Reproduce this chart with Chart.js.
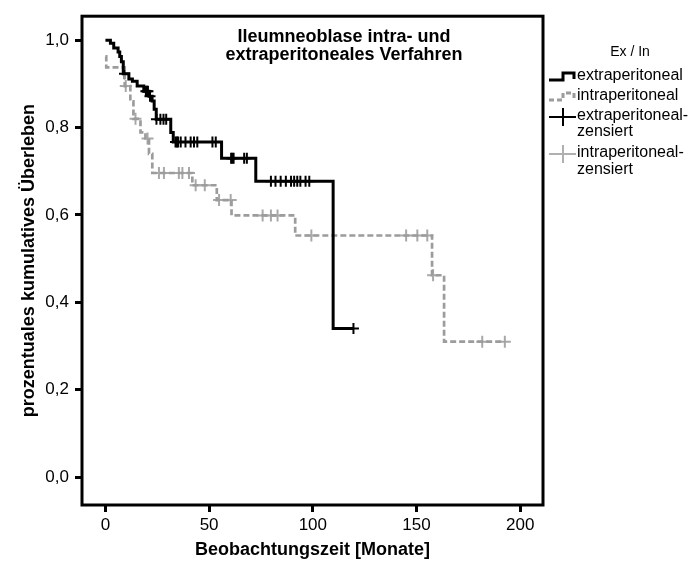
<!DOCTYPE html>
<html>
<head>
<meta charset="utf-8">
<script src="https://cdn.jsdelivr.net/npm/chart.js@4/dist/chart.umd.min.js"></script>
<style>
  body { margin: 0; background: #fff; }
  #wrap { width: 697px; height: 564px; }
</style>
</head>
<body>
<div id="wrap"><canvas id="km" width="697" height="564"></canvas></div>
<script>
// Kaplan-Meier steps (time in months, survival after the step)
const extraTimes = [0, 2.4, 4, 6.1, 6.9, 7.7, 8.6, 11.3, 13, 15.3, 18.5, 21, 22.5, 23.5, 24.5, 31.5, 32.7, 56, 72.5, 109.8, 119.6];
const extraSurv  = [1.0, 0.993, 0.982, 0.973, 0.963, 0.951, 0.923, 0.911, 0.906, 0.895, 0.883, 0.872, 0.861, 0.842, 0.819, 0.789, 0.767, 0.730, 0.677, 0.340, 0.340];

const intraTimes = [0, 0.4, 9.3, 12, 13.5, 16.9, 19.3, 21, 22.6, 41.9, 53.7, 60.8, 91.5, 157.5, 163.3, 192.6];
const intraSurv  = [0.963, 0.938, 0.895, 0.86, 0.82, 0.789, 0.775, 0.74, 0.696, 0.668, 0.634, 0.599, 0.553, 0.462, 0.310, 0.310];

// censored cases (months)
const extraCensored = [9.2, 19.5, 20, 20.5, 21.5, 24.6, 26.5, 28, 29.3, 33.8, 34.4, 35, 36.3, 38.6, 41.1, 42.7, 44.3, 51.6, 53.2,
                       60.6, 61.2, 61.8, 66.9, 68.2, 79.8, 82, 84.5, 87, 89.5, 91, 92.5, 94, 96.5, 98.3, 119.6];
const intraCensored = [9.8, 14.5, 20.3, 25.8, 28.2, 35.4, 37.1, 40.3, 43.5, 47.9, 54.8, 60.4, 75.8, 79.8, 83, 99.3,
                       145, 150.4, 155.2, 158, 181.7, 192.6];

const xTicks = [0, 50, 100, 150, 200];
const yTicks = [0, 0.2, 0.4, 0.6, 0.8, 1.0];

const legendTitle = 'Ex / In';
const legendLabels = [['extraperitoneal'], ['intraperitoneal'], ['extraperitoneal-', 'zensiert'], ['intraperitoneal-', 'zensiert']];
const plotTitle = ['Ileumneoblase intra- und', 'extraperitoneales Verfahren'];

const black = '#000000';
const grey = '#9c9c9c';
const fontFamily = 'Arial, "Liberation Sans", sans-serif';

function survAt(times, surv, t) {
    let s = surv[0];
    for (let i = 0; i < times.length; i++) {
        if (times[i] <= t) s = surv[i];
    }
    return s;
}

const toPoints = (times, surv) => times.map((t, i) => ({ x: t, y: surv[i] }));
const censorPoints = (cens, times, surv) => cens.map(t => ({ x: t, y: survAt(times, surv, t) }));

// box, title inside the plot and the legend on the right
const decor = {
    id: 'decor',
    afterDraw(chart) {
        const { ctx, chartArea: a } = chart;
        ctx.save();
        ctx.strokeStyle = black;
        ctx.lineWidth = 3;
        ctx.strokeRect(a.left, a.top, a.right - a.left, a.bottom - a.top);

        ctx.fillStyle = black;
        ctx.textAlign = 'center';
        ctx.textBaseline = 'middle';
        ctx.font = 'bold 18px ' + fontFamily;
        ctx.fillText(plotTitle[0], 344, 37);
        ctx.fillText(plotTitle[1], 344, 55);

        ctx.font = '14px ' + fontFamily;
        ctx.fillText(legendTitle, 630, 52);

        ctx.textAlign = 'left';
        ctx.font = '16px ' + fontFamily;
        const rows = [[76], [96], [116, 132], [153, 170]];
        legendLabels.forEach((lines, i) => {
            lines.forEach((txt, j) => ctx.fillText(txt, 577, rows[i][j]));
        });

        // step symbols
        ctx.lineWidth = 3;
        ctx.strokeStyle = black;
        ctx.beginPath();
        ctx.moveTo(549, 80); ctx.lineTo(563, 80); ctx.lineTo(563, 73); ctx.lineTo(574, 73); ctx.lineTo(574, 79);
        ctx.stroke();
        ctx.strokeStyle = grey;
        ctx.setLineDash([5, 3]);
        ctx.beginPath();
        ctx.moveTo(549, 100); ctx.lineTo(563, 100); ctx.lineTo(563, 93); ctx.lineTo(574, 93); ctx.lineTo(574, 99);
        ctx.stroke();
        ctx.setLineDash([]);

        // censor symbols
        ctx.lineWidth = 2;
        ctx.strokeStyle = black;
        ctx.beginPath();
        ctx.moveTo(549, 117); ctx.lineTo(576, 117);
        ctx.moveTo(563, 108); ctx.lineTo(563, 126);
        ctx.stroke();
        ctx.strokeStyle = '#b0b0b0';
        ctx.beginPath();
        ctx.moveTo(549, 154); ctx.lineTo(576, 154);
        ctx.moveTo(563, 145); ctx.lineTo(563, 163);
        ctx.stroke();
        ctx.restore();
    },
};

Chart.defaults.font.family = fontFamily;
Chart.defaults.color = black;

new Chart(document.getElementById('km'), {
    type: 'line',
    data: {
        datasets: [
            {
                label: 'extraperitoneal',
                data: toPoints(extraTimes, extraSurv),
                borderColor: black,
                borderWidth: 3,
                stepped: 'before',
                pointRadius: 0,
                fill: false,
            },
            {
                label: 'intraperitoneal',
                data: toPoints(intraTimes, intraSurv),
                borderColor: grey,
                borderWidth: 2.7,
                borderDash: [6, 3],
                stepped: 'before',
                pointRadius: 0,
                fill: false,
            },
            {
                label: 'extraperitoneal-zensiert',
                data: censorPoints(extraCensored, extraTimes, extraSurv),
                showLine: false,
                pointStyle: 'cross',
                pointRadius: 5.5,
                pointBorderWidth: 2,
                pointBorderColor: black,
            },
            {
                label: 'intraperitoneal-zensiert',
                data: censorPoints(intraCensored, intraTimes, intraSurv),
                showLine: false,
                pointStyle: 'cross',
                pointRadius: 6,
                pointBorderWidth: 2,
                pointBorderColor: '#a8a8a8',
            },
        ],
    },
    options: {
        responsive: false,
        animation: false,
        devicePixelRatio: 1,
        layout: { padding: { top: 11.5, right: 154, left: 0, bottom: 0 } },
        plugins: {
            legend: { display: false },
            tooltip: { enabled: false },
        },
        scales: {
            x: {
                type: 'linear',
                min: -11.3,
                max: 211,
                afterBuildTicks: (scale) => { scale.ticks = xTicks.map(v => ({ value: v })); },
                afterFit: (scale) => { scale.height = 59; },
                ticks: { font: { size: 17 }, padding: 3, maxRotation: 0, callback: (v) => String(v) },
                grid: { drawOnChartArea: false, drawTicks: true, tickLength: 7, lineWidth: 3, color: black },
                border: { display: false },
                title: {
                    display: true,
                    text: 'Beobachtungszeit [Monate]',
                    font: { size: 18, weight: 'bold' },
                    padding: { top: 0, bottom: 3 },
                },
            },
            y: {
                min: -0.064,
                max: 1.055,
                afterBuildTicks: (scale) => { scale.ticks = yTicks.map(v => ({ value: v })); },
                afterFit: (scale) => { scale.width = 82; },
                ticks: { font: { size: 17 }, padding: 6, callback: (v) => v.toFixed(1).replace('.', ',') },
                grid: { drawOnChartArea: false, drawTicks: true, tickLength: 7, lineWidth: 3, color: black },
                border: { display: false },
                title: {
                    display: true,
                    text: 'prozentuales kumulatives Überleben',
                    font: { size: 18, weight: 'bold' },
                    padding: { top: 18, bottom: 0 },
                },
            },
        },
    },
    plugins: [decor],
});
</script>
</body>
</html>
